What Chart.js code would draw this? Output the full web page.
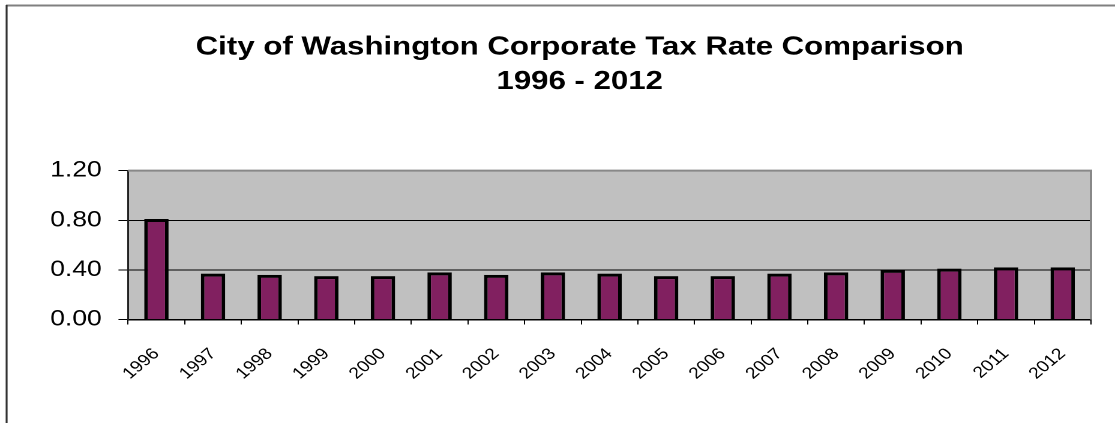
<!DOCTYPE html>
<html>
<head>
<meta charset="utf-8">
<script src="https://cdn.jsdelivr.net/npm/chart.js@4.4.0/dist/chart.umd.min.js"></script>
<style>
html,body{margin:0;padding:0;background:#fff;overflow:hidden;}
#wrap{width:929px;height:423px;transform:scaleX(1.2002);transform-origin:0 0;position:relative;}
</style>
</head>
<body>
<div id="wrap"><canvas id="c"></canvas></div>
<script>
const titleLines = ['City of Washington Corporate Tax Rate Comparison', '1996 - 2012'];
const years = ['1996','1997','1998','1999','2000','2001','2002','2003','2004','2005','2006','2007','2008','2009','2010','2011','2012'];
const taxRates = [0.81,0.37,0.36,0.35,0.35,0.38,0.36,0.38,0.37,0.35,0.35,0.37,0.38,0.40,0.41,0.42,0.42];
const yTicks = [0, 0.4, 0.8, 1.2];

const FONT = '"Liberation Sans", Arial, sans-serif';

const framePlugin = {
  id: 'frame',
  beforeDraw(chart) {
    const {ctx, chartArea: a} = chart;
    ctx.save();
    ctx.fillStyle = '#C0C0C0';
    ctx.fillRect(a.left, a.top, a.right - a.left, a.bottom - a.top);
    ctx.restore();
  },
  afterDraw(chart) {
    const {ctx, chartArea: a, width, height} = chart;
    ctx.save();
    ctx.strokeStyle = '#888888';
    ctx.lineWidth = 2;
    ctx.beginPath();
    ctx.moveTo(a.left, a.top);
    ctx.lineTo(a.right, a.top);
    ctx.lineTo(a.right, a.bottom);
    ctx.stroke();
    ctx.strokeStyle = '#808080';
    ctx.lineWidth = 2;
    ctx.beginPath();
    ctx.moveTo(5, 5.5);
    ctx.lineTo(width, 5.5);
    ctx.stroke();
    ctx.strokeStyle = '#333333';
    ctx.lineWidth = 1.6;
    ctx.beginPath();
    ctx.moveTo(5.5, 5);
    ctx.lineTo(5.5, height);
    ctx.stroke();
    ctx.restore();
  }
};

new Chart(document.getElementById('c'), {
  type: 'bar',
  data: {
    labels: years,
    datasets: [{
      data: taxRates,
      backgroundColor: '#812060',
      borderColor: '#000000',
      borderWidth: 3,
      barPercentage: 0.43,
      categoryPercentage: 1.0
    }]
  },
  options: {
    responsive: true,
    maintainAspectRatio: false,
    animation: false,
    devicePixelRatio: 2,
    layout: { padding: { left: 37, right: 0, top: 10, bottom: 15.5 } },
    plugins: {
      legend: { display: false },
      tooltip: { enabled: false },
      title: {
        display: true,
        text: titleLines,
        color: '#000',
        font: { family: FONT, size: 26, weight: 'bold', lineHeight: 1.33 },
        padding: { top: 20, bottom: 71.5 }
      }
    },
    scales: {
      x: {
        offset: true,
        afterFit(scale) { scale.height = 88; },
        grid: { display: true, drawOnChartArea: false, offset: true, color: '#000', tickLength: 5, lineWidth: 1 },
        border: { display: true, color: '#000', width: 1.5 },
        ticks: {
          color: '#000',
          font: { family: FONT, size: 16 },
          maxRotation: 45, minRotation: 45,
          padding: 20,
          autoSkip: false
        }
      },
      y: {
        min: 0, max: 1.2,
        afterFit(scale) { scale.width = 69.7; },
        afterBuildTicks(scale) { scale.ticks = yTicks.map(v => ({ value: v })); },
        grid: { color: '#000', lineWidth: 1, tickLength: 8 },
        border: { display: true, color: '#222', width: 1.5 },
        ticks: {
          color: '#000',
          font: { family: FONT, size: 22 },
          padding: 14,
          callback: (v) => Number(v).toFixed(2)
        }
      },
      ySpacer: {
        position: 'right',
        min: 0, max: 1,
        afterFit(scale) { scale.width = 20; },
        grid: { display: false, drawOnChartArea: false },
        border: { display: false },
        ticks: { display: false }
      }
    }
  },
  plugins: [framePlugin]
});
</script>
</body>
</html>
